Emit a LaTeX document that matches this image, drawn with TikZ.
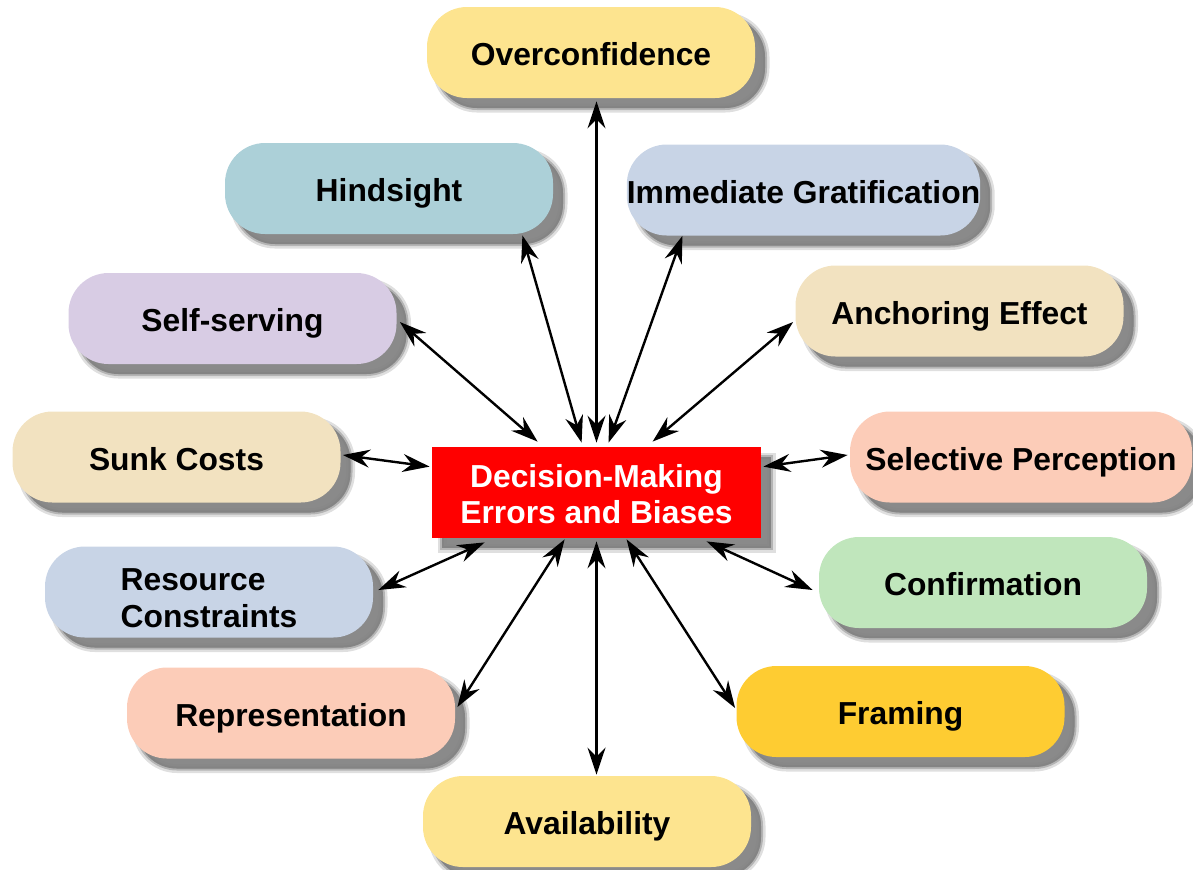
\documentclass[tikz,border=0pt]{standalone}
\usepackage{fontspec}
\setmainfont{Liberation Sans}
\usetikzlibrary{arrows.meta,shadows,calc}
\definecolor{cYellow}{RGB}{253,228,143}
\definecolor{cTeal}{RGB}{172,208,216}
\definecolor{cBlue}{RGB}{200,212,230}
\definecolor{cLav}{RGB}{216,204,228}
\definecolor{cBeige}{RGB}{242,226,192}
\definecolor{cPeach}{RGB}{252,204,184}
\definecolor{cGreen}{RGB}{192,230,188}
\definecolor{cGold}{RGB}{254,204,50}
\definecolor{cRed}{RGB}{255,0,0}
\tikzset{
  myshadow/.style={
    drop shadow={shadow xshift=5pt,shadow yshift=-5pt,fill=black!50,draw=black!50,line width=4.5pt,opacity=0.25},
    drop shadow={shadow xshift=5pt,shadow yshift=-5pt,fill=black!50,draw=black!50,line width=2pt,opacity=0.45},
    drop shadow={shadow xshift=5pt,shadow yshift=-5pt,fill=black!50,opacity=0.8}},
  txt/.style={font=\fontsize{15.9}{18.2}\selectfont\bfseries},
  box/.style={rectangle, rounded corners=20pt, minimum width=164pt, minimum height=45.5pt,
    inner sep=0pt, txt, text=black, text height=13.5pt, text depth=0.5pt, myshadow},
  centerbox/.style={rectangle, fill=cRed, text=white, minimum width=164.5pt, minimum height=45.5pt,
    inner sep=0pt, txt, myshadow},
  arr/.style={line width=1.2pt, black,
    {Stealth[length=13.5pt,width=9pt,inset=4.5pt]}-{Stealth[length=13.5pt,width=9pt,inset=4.5pt]}}
}
\begin{document}
\begin{tikzpicture}[x=0.5pt,y=-0.5pt]
\useasboundingbox (0,0) rectangle (1193,869);
\node[box, fill=cYellow] (over) at (591,52.5) {Overconfidence};
\node[box, fill=cTeal] (hind) at (389,188.5) {Hindsight};
\node[box, fill=cBlue] (immed) at (803.5,190) {Immediate Gratification};
\node[box, fill=cLav] (self) at (232.5,318.5) {Self-serving};
\node[box, fill=cBeige] (anch) at (959.5,311) {Anchoring Effect};
\node[box, fill=cBeige] (sunk) at (176.5,457) {Sunk Costs};
\node[box, fill=cPeach, minimum width=171pt] (sel) at (1021,457) {Selective Perception};
\node[box, fill=cBlue, text height=18.8pt, text depth=0.5pt] (res) at (209,592)
  {\begin{tabular}{@{}l@{}}Resource\\Constraints\end{tabular}};
\node[box, fill=cGreen] (conf) at (983,582.5) {Confirmation};
\node[box, fill=cPeach] (repr) at (291,713) {Representation};
\node[box, fill=cGold] (fram) at (900.5,711.5) {Framing};
\node[box, fill=cYellow] (avail) at (587,821.5) {Availability};
\node[centerbox, text height=14.8pt, text depth=0.5pt] (c) at (596.5,492.5)
  {\begin{tabular}{@{}c@{}}Decision-Making\\Errors and Biases\end{tabular}};

\draw[arr] ($(c.north west)+(106,-5)$) -- ($(self.east)+(3,3.5)$);
\draw[arr] ($(c.north west)+(150,-4)$) -- ($(hind.south east)+(-31,1)$);
\draw[arr] ($(c.north)+(0,-4)$) -- ($(c.north |- over.south)+(0,3)$);
\draw[arr] ($(c.north west)+(177,-4)$) -- ($(immed.south west)+(56,0)$);
\draw[arr] ($(c.north west)+(221,-5)$) -- ($(anch.west)+(-2,11)$);
\draw[arr] ($(c.north west)+(-2,20)$) -- ($(sunk.east)+(2,-2)$);
\draw[arr] ($(c.north east)+(2,20)$) -- ($(sel.west)+(-2,-2)$);
\draw[arr] ($(c.south west)+(53,4)$) -- ($(res.east)+(5,-2)$);
\draw[arr] ($(c.south west)+(133,1)$) -- ($(repr.east)+(2,-6)$);
\draw[arr] ($(c.south)+(0,3)$) -- ($(c.south |- avail.north)+(0,-1)$);
\draw[arr] ($(c.south west)+(195,1)$) -- ($(fram.west)+(-1,-3.5)$);
\draw[arr] ($(c.south west)+(275,3)$) -- ($(conf.west)+(-6,7.5)$);
\end{tikzpicture}
\end{document}
